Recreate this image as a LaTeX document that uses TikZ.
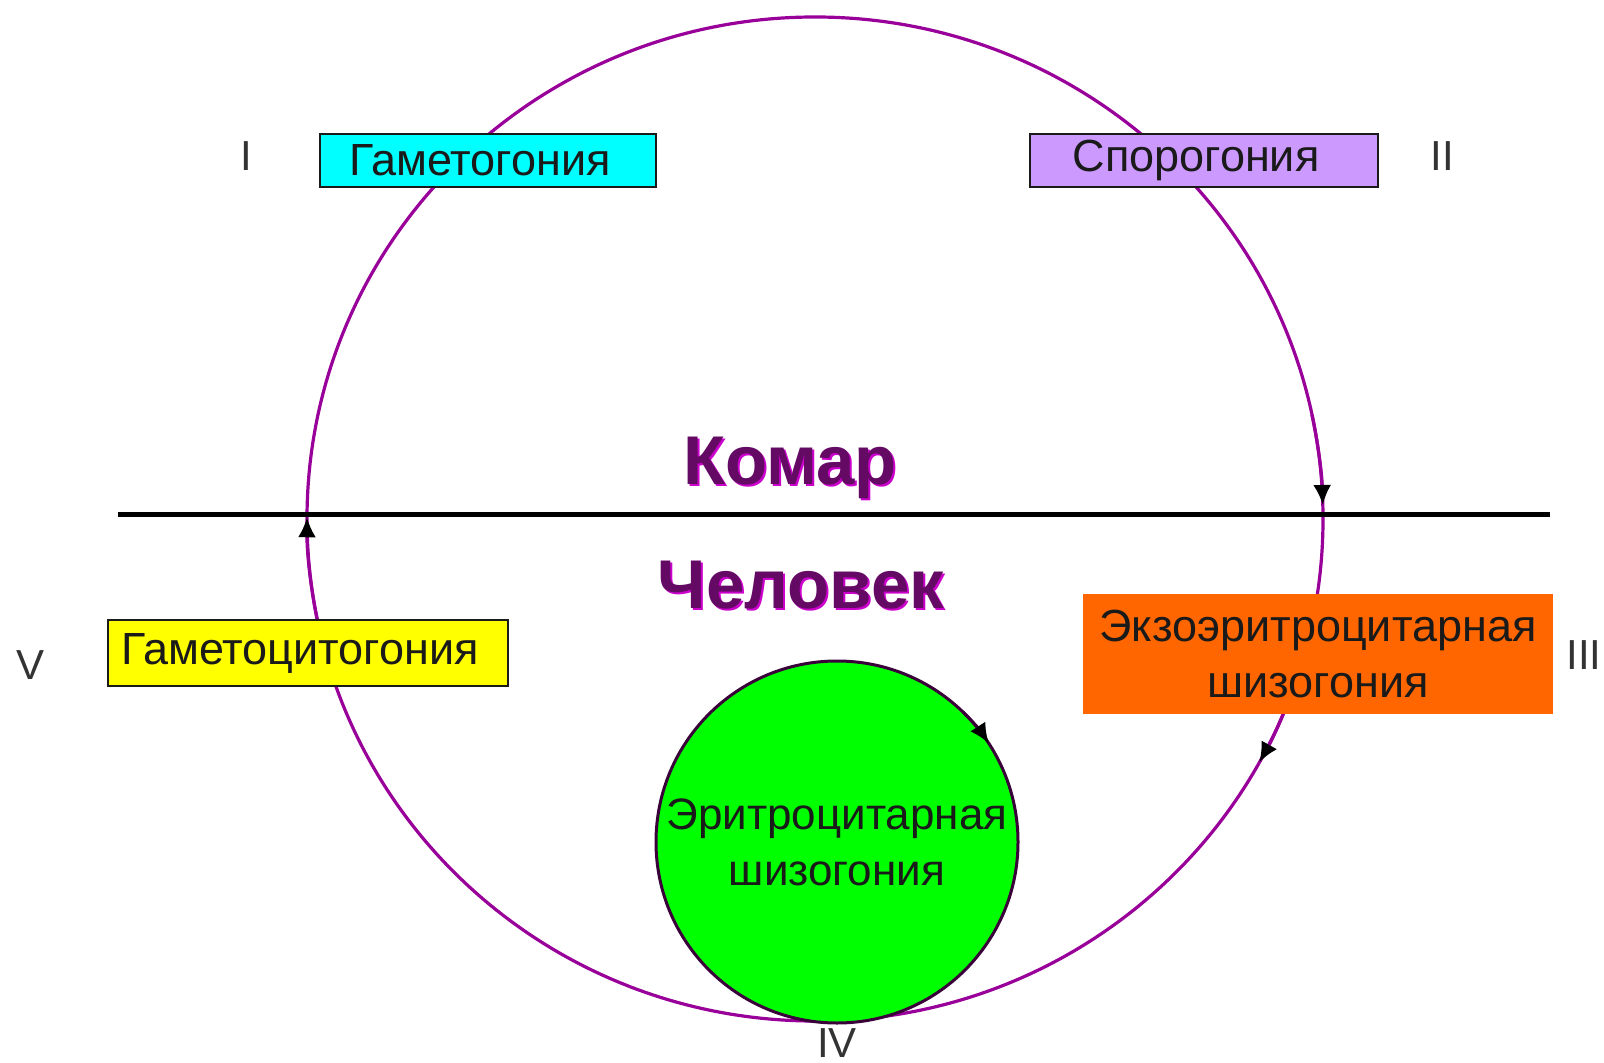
\documentclass[tikz,border=0pt]{standalone}
\usepackage{fontspec}
\setmainfont{Liberation Sans}
\usetikzlibrary{arrows.meta}
\definecolor{cyc}{HTML}{990099}
\definecolor{cyanbox}{HTML}{00FFFF}
\definecolor{lilac}{HTML}{CC99FF}
\definecolor{yel}{HTML}{FFFF00}
\definecolor{orng}{HTML}{FF6600}
\definecolor{grn}{HTML}{00FF00}
\definecolor{txt}{HTML}{1A1A1A}
\definecolor{numc}{HTML}{333333}
\definecolor{hostc}{HTML}{640A64}
\definecolor{hostedge}{HTML}{CC00CC}
\definecolor{grnedge}{HTML}{3A003A}
\tikzset{
  stagebox/.style={draw=txt, line width=1.2pt, inner sep=0pt, text=txt,
    font=\fontsize{22.5}{28}\selectfont, align=center},
  numlabel/.style={text=numc, font=\fontsize{21}{25}\selectfont, inner sep=0pt},
  host/.style={font=\fontsize{34.5}{40}\selectfont\bfseries, inner sep=0pt},
  cycarrow/.style={cyc, line width=1.6pt, -{Latex[length=10pt,width=9pt,color=black]}},
}
\begin{document}
\begin{tikzpicture}[x=0.5pt,y=-0.5pt]
\useasboundingbox[fill=white] (0,0) rectangle (1604,1063);
\coordinate (C) at (815,519);
% big cycle
\draw[cyc, line width=1.6pt] (C) ellipse [x radius=508, y radius=502];
% direction arrows on the big cycle
\draw[cycarrow] ([shift={(-12:508 and 502)}]C) arc[start angle=-12, end angle=-1.6, x radius=508, y radius=502];
\draw[cycarrow] ([shift={(19:508 and 502)}]C) arc[start angle=19, end angle=29, x radius=508, y radius=502];
\draw[cycarrow] ([shift={(168:508 and 502)}]C) arc[start angle=168, end angle=180.2, x radius=508, y radius=502];
% host separation line
\coordinate (lineL) at (118,514);
\coordinate (lineR) at (1550,514);
\draw[black, line width=2.5pt] (lineL) -- (lineR);
% hosts
\node[host, text=hostedge] (mosqS) at (792,470) {Комар};
\node[host, text=hostc] (mosq) at (790,468) {Комар};
\node[host, text=hostedge] (humS) at (803,587) {Человек};
\node[host, text=hostc] (hum) at (801,585) {Человек};
% stage boxes
\node[stagebox, fill=cyanbox, minimum width=168pt, minimum height=26.5pt] (gam) at (488,160.5) {Гаметогония\hspace*{8pt}};
\node[stagebox, fill=lilac, minimum width=174pt, minimum height=26.5pt] (spor) at (1204,160.5) {Спорогония\hspace*{8pt}};
\node[stagebox, fill=yel, minimum width=200pt, minimum height=33pt] (gamcyt) at (308,653) {Гаметоцитогония\hspace*{8pt}};
\node[stagebox, draw=none, fill=orng, minimum width=235pt, minimum height=60pt] (exo) at (1318,654) {Экзоэритроцитарная\\шизогония};
% roman numerals
\node[numlabel] (n1) at (246,156) {I};
\node[numlabel] (n2) at (1442,156) {II};
\node[numlabel] (n3) at (1584,655) {III};
\node[numlabel] (n5) at (31,665) {V};
\node[numlabel] (n4) at (837,1043) {IV};
% erythrocytic schizogony
\node[circle, fill=grn, draw=grnedge, line width=1.5pt, minimum size=181pt, inner sep=0pt,
  text=txt, font=\fontsize{22}{28}\selectfont, align=center] (ery) at (837,842) {Эритроцитарная\\шизогония};
\draw[grnedge, line width=1.5pt, -{Latex[length=10pt,width=9pt,color=black]}] ([shift={(-46:181)}]ery.center) arc[start angle=-46, end angle=-33, radius=181];
\end{tikzpicture}
\end{document}
